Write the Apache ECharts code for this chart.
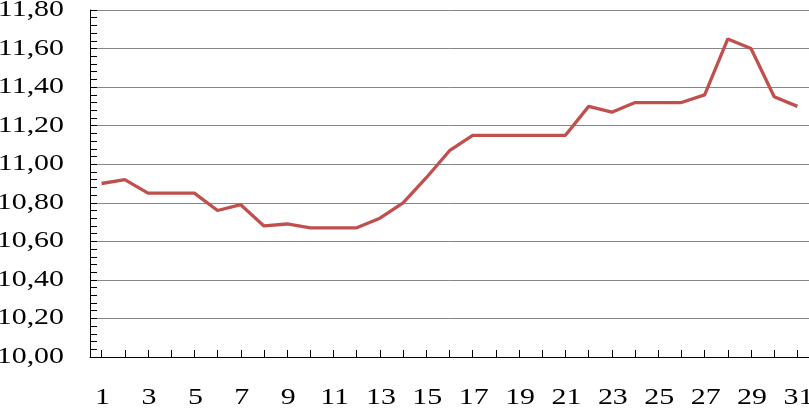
<!DOCTYPE html>
<html>
<head>
<meta charset="utf-8">
<script src="https://cdn.jsdelivr.net/npm/echarts@6/dist/echarts.min.js"></script>
<style>
html,body{margin:0;padding:0;background:#fff;}
#chart{width:809px;height:408px;}
</style>
</head>
<body>
<div id="chart"></div>
<script>
const days = ['1','2','3','4','5','6','7','8','9','10','11','12','13','14','15','16','17','18','19','20','21','22','23','24','25','26','27','28','29','30','31'];
const values = [10.90,10.92,10.85,10.85,10.85,10.76,10.79,10.68,10.69,10.67,10.67,10.67,10.72,10.80,10.93,11.07,11.15,11.15,11.15,11.15,11.15,11.30,11.27,11.32,11.32,11.32,11.36,11.65,11.60,11.35,11.30];
const yTicks = [10.0,10.2,10.4,10.6,10.8,11.0,11.2,11.4,11.6,11.8];
const yTickLabels = ['10,00','10,20','10,40','10,60','10,80','11,00','11,20','11,40','11,60','11,80'];
const xTickLabels = ['1','3','5','7','9','11','13','15','17','19','21','23','25','27','29','31'];
const yMin = 10.0, yMax = 11.8, yStep = 0.2;

const FONT = 'Liberation Serif';
const FS = 23;
const SX = 1.3;

const chart = echarts.init(document.getElementById('chart'), null, {renderer: 'canvas'});
chart.setOption({
  animation: false,
  backgroundColor: '#fff',
  grid: {left: 90, right: 0, top: 10, bottom: 51, containLabel: false, outerBoundsMode: 'none'},
  xAxis: {
    type: 'category',
    data: days,
    boundaryGap: true,
    axisLine: {lineStyle: {color: '#000', width: 1}},
    axisTick: {show: true, inside: true, length: 7, alignWithLabel: true, interval: 0, lineStyle: {color: '#000'}},
    axisLabel: {show: false},
    splitLine: {show: false}
  },
  yAxis: {
    type: 'value',
    min: yMin, max: yMax, interval: yStep,
    axisLine: {show: true, lineStyle: {color: '#000', width: 1}},
    axisTick: {show: true, inside: true, length: 7, lineStyle: {color: '#000'}},
    minorTick: {show: true, splitNumber: 5, length: 7, lineStyle: {color: '#000'}},
    axisLabel: {show: false},
    splitLine: {show: true, lineStyle: {color: '#868686', width: 1}}
  },
  series: [{
    type: 'line',
    data: values,
    symbol: 'none',
    lineStyle: {color: '#C0504D', width: 3.3},
    itemStyle: {color: '#C0504D'}
  }]
});

const graphics = [];
yTicks.forEach((v, i) => {
  const py = chart.convertToPixel({yAxisIndex: 0}, v);
  graphics.push({
    type: 'text', x: 64, y: py, scaleX: SX, silent: true,
    style: {text: yTickLabels[i], fontFamily: FONT, fontSize: FS, fill: '#000', align: 'right', verticalAlign: 'middle'}
  });
});
xTickLabels.forEach(lbl => {
  const px = chart.convertToPixel({xAxisIndex: 0}, lbl);
  graphics.push({
    type: 'text', x: px + 1, y: 398, scaleX: SX, silent: true,
    style: {text: lbl, fontFamily: FONT, fontSize: FS, fill: '#000', align: 'center', verticalAlign: 'middle'}
  });
});
chart.setOption({graphic: graphics});
</script>
</body>
</html>
